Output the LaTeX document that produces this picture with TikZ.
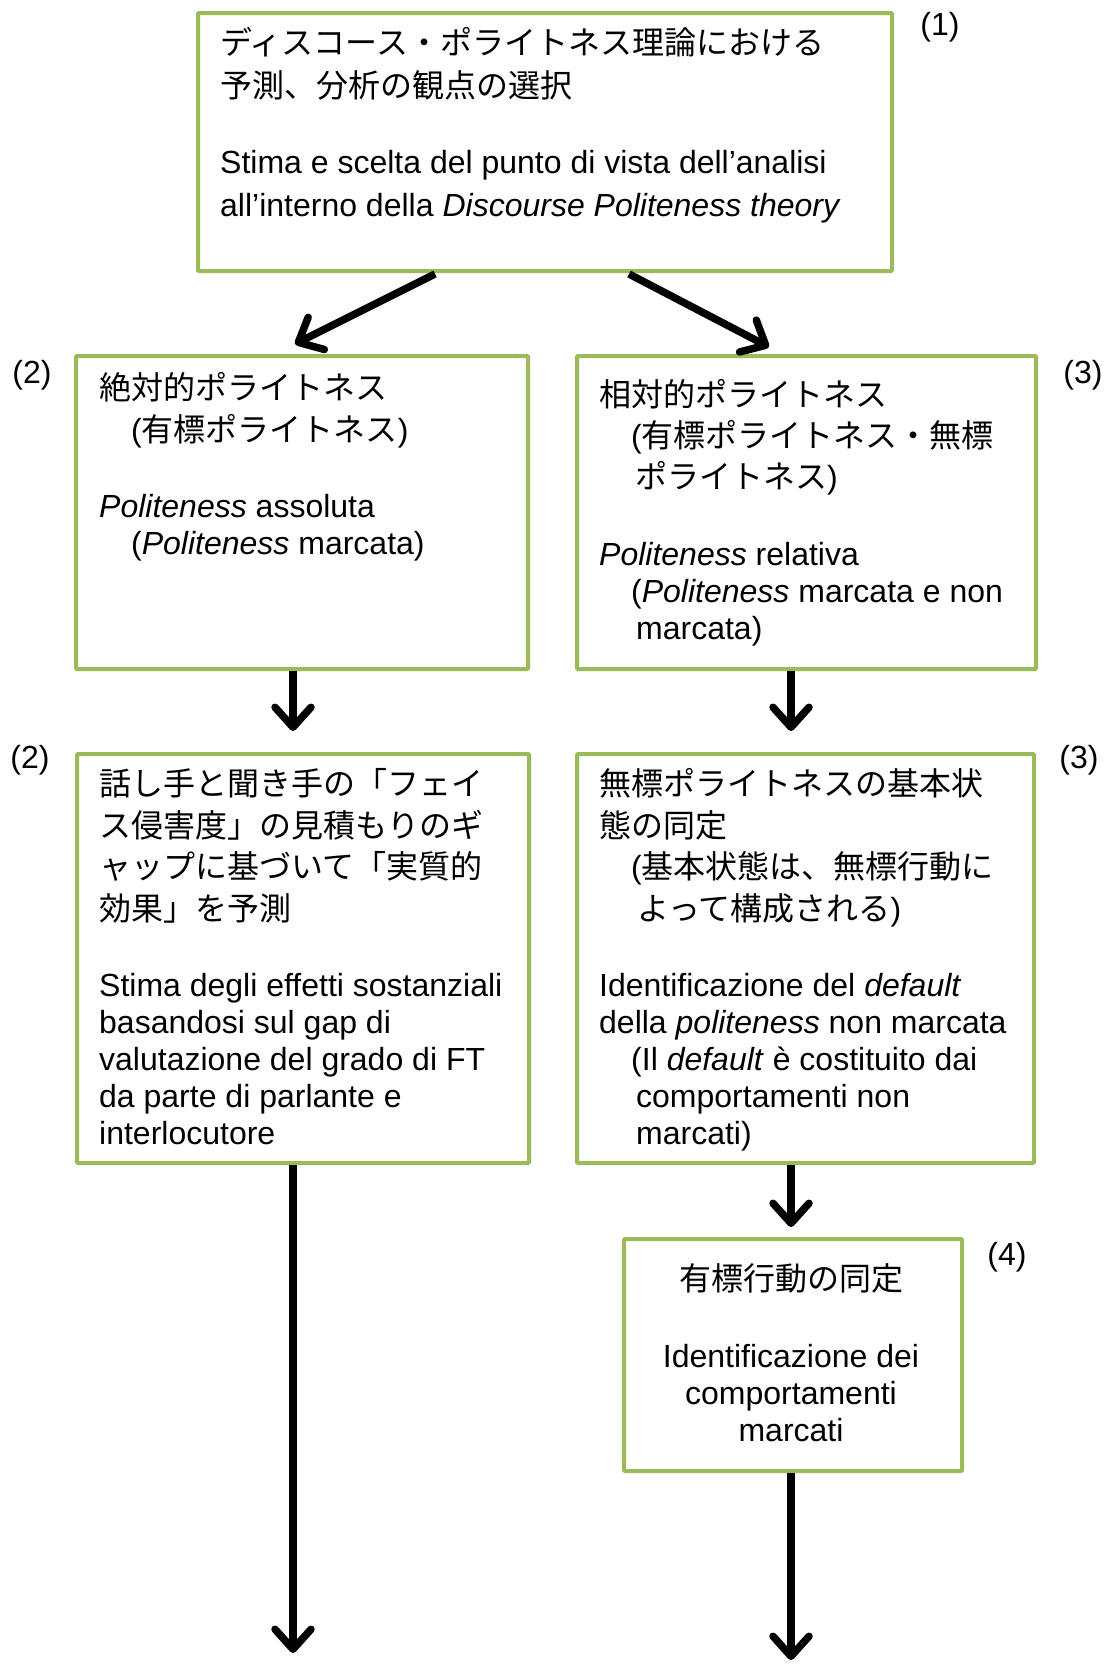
\documentclass[tikz,border=0pt]{standalone}
\usepackage{fontspec}
\setmainfont{Liberation Sans}
\newfontfamily\jp{Noto Sans CJK JP}
\usetikzlibrary{arrows.meta,calc}
\definecolor{boxgreen}{HTML}{9BBB59}
\begin{document}
\begin{tikzpicture}[x=1pt,y=-1pt,
  box/.style={draw=boxgreen, line width=4pt, fill=white, rounded corners=1pt, anchor=north west, inner sep=0pt},
  arr/.style={line width=7.5pt, -{Straight Barb[length=20pt,width=36pt,round]}},
  txt/.style={inner sep=0pt, anchor=base west, font=\fontsize{32}{37}\selectfont},
  lbl/.style={inner sep=0pt, font=\fontsize{32}{37}\selectfont}]
\useasboundingbox (0,0) rectangle (1114,1665);
\fill[white] (0,0) rectangle (1114,1665);

% boxes
\node[box, minimum width=694pt, minimum height=258pt] (b1) at (196,11) {};
\node[box, minimum width=452pt, minimum height=313pt] (b2) at (74,354) {};
\node[box, minimum width=459pt, minimum height=313pt] (b3) at (575,354) {};
\node[box, minimum width=452pt, minimum height=409pt] (b4) at (75,752) {};
\node[box, minimum width=457pt, minimum height=409pt] (b5) at (575,752) {};
\node[box, minimum width=338pt, minimum height=232pt] (b6) at (622,1237) {};

% texts
\node[txt] (t1) at (220,54.5) {\parbox[t]{660pt}{%
{\jp ディスコース・ポライトネス理論における}\\[5.5pt]
{\jp 予測、分析の観点の選択}\\[39.5pt]
Stima e scelta del punto di vista dell’analisi\\[5.5pt]
all’interno della \textit{Discourse Politeness theory}}};

\node[txt] (t2) at (99,399.6) {\parbox[t]{420pt}{%
{\jp 絶対的ポライトネス}\\[4.4pt]
\hspace*{32pt}({\jp 有標ポライトネス})\\[39.5pt]
\textit{Politeness} assoluta\\
\hspace*{32pt}(\textit{Politeness} marcata)}};

\node[txt] (t3) at (599,406) {\parbox[t]{430pt}{%
{\jp 相対的ポライトネス}\\[4.4pt]
\hspace*{32pt}({\jp 有標ポライトネス・無標}\\[4.4pt]
\hspace*{36pt}{\jp ポライトネス})\\[39.5pt]
\textit{Politeness} relativa\\
\hspace*{32pt}(\textit{Politeness} marcata e non\\
\hspace*{37pt}marcata)}};

\node[txt] (t4) at (99,795.8) {\parbox[t]{420pt}{%
{\jp 話し手と聞き手の「フェイ}\\[4.4pt]
{\jp ス侵害度」の見積もりのギ}\\[4.4pt]
{\jp ャップに基づいて「実質的}\\[4.4pt]
{\jp 効果」を予測}\\[39.5pt]
Stima degli effetti sostanziali\\
basandosi sul gap di\\
valutazione del grado di FT\\
da parte di parlante e\\
interlocutore}};

\node[txt] (t5) at (599,795.8) {\parbox[t]{430pt}{%
{\jp 無標ポライトネスの基本状}\\[4.4pt]
{\jp 態の同定}\\[4.4pt]
\hspace*{32pt}({\jp 基本状態は、無標行動に}\\[4.4pt]
\hspace*{38pt}{\jp よって構成される})\\[39.5pt]
Identificazione del \textit{default}\\
della \textit{politeness} non marcata\\
\hspace*{32pt}(Il \textit{default} è costituito dai\\
\hspace*{37pt}comportamenti non\\
\hspace*{37pt}marcati)}};

\node[txt, anchor=base] (t6) at (791,1290.6) {\parbox[t]{320pt}{\centering
{\jp 有標行動の同定}\\[39.5pt]
Identificazione dei\\
comportamenti\\
marcati}};

% labels
\node[lbl] (l1) at (940,27) {(1)};
\node[lbl] (l2) at (32,375) {(2)};
\node[lbl] (l3) at (1083,375) {(3)};
\node[lbl] (l4) at (30,760) {(2)};
\node[lbl] (l5) at (1079,760) {(3)};
\node[lbl] (l6) at (1007,1257) {(4)};

% arrows
\coordinate (a1s) at (435,274);
\coordinate (a1e) at (295,344);
\coordinate (a2s) at (629,274);
\coordinate (a2e) at (769,347);
\coordinate (e2) at (293,731);
\coordinate (e3) at (791,731);
\coordinate (e4) at (293,1653);
\coordinate (e5) at (791,1227);
\coordinate (e6) at (791,1660);
\draw[arr] (a1s) -- (a1e);
\draw[arr] (a2s) -- (a2e);
\draw[arr] (b2.south -| e2) -- (e2);
\draw[arr] (b3.south -| e3) -- (e3);
\draw[arr] (b4.south -| e4) -- (e4);
\draw[arr] (b5.south -| e5) -- (e5);
\draw[arr] (b6.south -| e6) -- (e6);
\end{tikzpicture}
\end{document}
